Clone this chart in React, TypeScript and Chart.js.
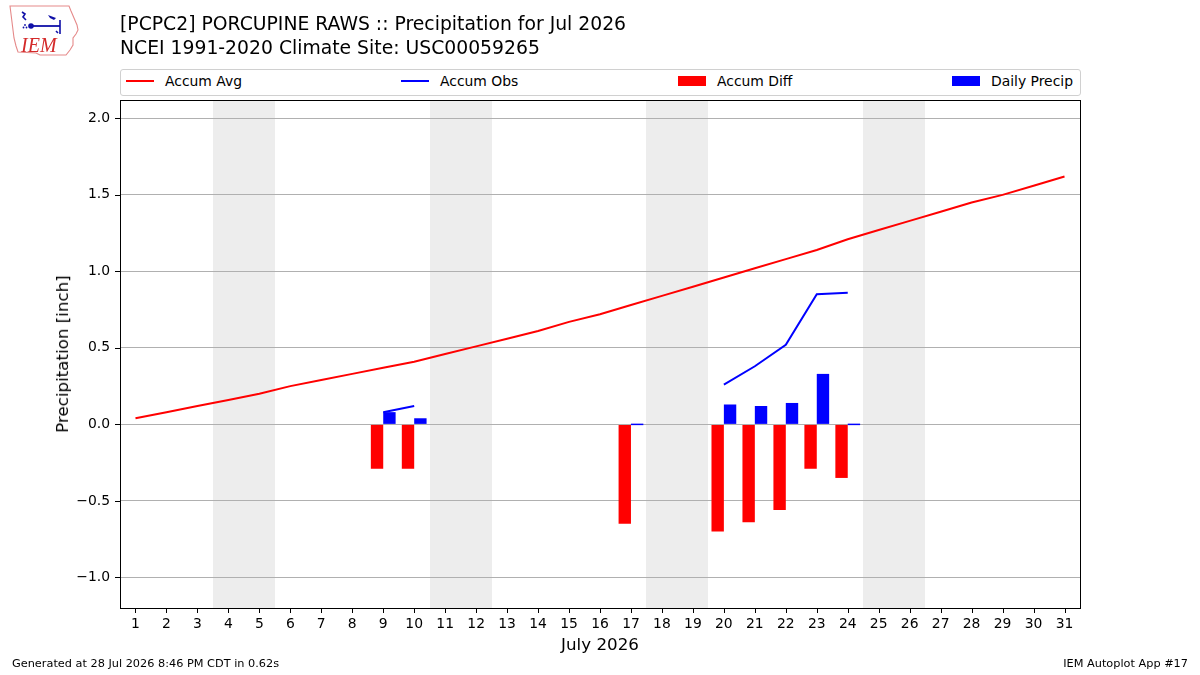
import React, { useEffect, useRef } from 'react';
import { Chart, registerables } from 'chart.js';

Chart.register(...registerables);

// ---- data ----
const days = ['1', '2', '3', '4', '5', '6', '7', '8', '9', '10', '11', '12', '13', '14', '15', '16',
  '17', '18', '19', '20', '21', '22', '23', '24', '25', '26', '27', '28', '29', '30', '31'];

const accumAvg = [0.04, 0.08, 0.12, 0.16, 0.20, 0.25, 0.29, 0.33, 0.37, 0.41, 0.46, 0.51, 0.56, 0.61,
  0.67, 0.72, 0.78, 0.84, 0.90, 0.96, 1.02, 1.08, 1.14, 1.21, 1.27, 1.33, 1.39, 1.45, 1.50, 1.56, 1.62];

const accumObs = [null, null, null, null, null, null, null, null, 0.08, 0.12, null, null, null, null,
  null, null, 0.13, null, null, 0.26, 0.38, 0.52, 0.85, 0.86, null, null, null, null, null, null, null];

const accumDiff = [null, null, null, null, null, null, null, null, -0.29, -0.29, null, null, null, null,
  null, null, -0.65, null, null, -0.70, -0.64, -0.56, -0.29, -0.35, null, null, null, null, null, null, null];

const dailyPrecip = [null, null, null, null, null, null, null, null, 0.08, 0.04, null, null, null, null,
  null, null, 0.0, null, null, 0.13, 0.12, 0.14, 0.33, 0.0, null, null, null, null, null, null, null];

const weekendDays = [4, 5, 11, 12, 18, 19, 25, 26];
const yTicks = [-1.0, -0.5, 0.0, 0.5, 1.0, 1.5, 2.0];
const yMin = -1.2;
const yMax = 2.12;

const FONT = "'DejaVu Sans', sans-serif";

const decorPlugin = {
  id: 'decor',
  beforeDraw(chart: any) {
    const { ctx, chartArea } = chart;
    const xs = chart.scales.x;
    ctx.save();
    ctx.fillStyle = '#ededed';
    weekendDays.forEach((d) => {
      const i = days.indexOf(String(d));
      const l = Math.round(xs.getPixelForValue(i - 0.5));
      const r = Math.round(xs.getPixelForValue(i + 0.5));
      ctx.fillRect(l, chartArea.top, r - l, chartArea.bottom - chartArea.top);
    });
    ctx.restore();
  },
  afterDraw(chart: any) {
    const { ctx, chartArea } = chart;
    const xs = chart.scales.x;
    const ys = chart.scales.y;
    ctx.save();
    ctx.strokeStyle = '#000';
    ctx.lineWidth = 1;
    ctx.strokeRect(Math.round(chartArea.left) + 0.5, Math.round(chartArea.top) + 0.5,
      Math.round(chartArea.right - chartArea.left), Math.round(chartArea.bottom - chartArea.top));
    ctx.beginPath();
    days.forEach((_, i) => {
      const x = Math.round(xs.getPixelForValue(i)) + 0.5;
      ctx.moveTo(x, chartArea.bottom);
      ctx.lineTo(x, chartArea.bottom + 5);
    });
    yTicks.forEach((v) => {
      const y = Math.round(ys.getPixelForValue(v)) + 0.5;
      ctx.moveTo(chartArea.left, y);
      ctx.lineTo(chartArea.left - 5, y);
    });
    ctx.stroke();
    ctx.restore();
  },
};

function Logo() {
  return (
    <svg width="100" height="65" style={{ position: 'absolute', left: 0, top: 0 }} viewBox="0 0 100 65">
      <path d="M10 6 L69 6 L71 11 L74 18 L77 25 L78 30 L76 34 L73 38 L73 45 L70 50 L66 55 L40 55 L36 53 L18 52 L16 46 L14 38 L13 30 L12 22 L11 14 Z"
        fill="none" stroke="#e58a8a" strokeWidth="1.1" />
      <path d="M22 12 L25 14 L23 17 L26 20" stroke="#1010a8" strokeWidth="1.6" fill="none" />
      <path d="M32 26 L60 26" stroke="#1010a8" strokeWidth="1.8" fill="none" />
      <path d="M60 20 L60 34 M56 31 L58 33" stroke="#1010a8" strokeWidth="1.6" fill="none" />
      <path d="M48 15 L56 18 L54 20 L50 18 Z" fill="#1010a8" />
      <circle cx="31" cy="26" r="2.8" fill="#1010a8" />
      <circle cx="25" cy="25" r="0.9" fill="#1010a8" />
      <circle cx="23.5" cy="27.5" r="0.9" fill="#1010a8" />
      <circle cx="26.5" cy="27.5" r="0.9" fill="#1010a8" />
      <text x="21" y="52" fill="#d42a2a" fontFamily="'Liberation Serif', serif" fontStyle="italic" fontSize="20">IEM</text>
    </svg>
  );
}

function LegendLine({ x, color, label }: { x: number; color: string; label: string }) {
  return (
    <>
      <div style={{ position: 'absolute', left: x, top: 80, width: 28, height: 2, background: color }} />
      <div style={{ position: 'absolute', left: x + 39, top: 72, height: 18, lineHeight: '18px', fontSize: 13.9, fontFamily: FONT, color: '#000', whiteSpace: 'nowrap' }}>{label}</div>
    </>
  );
}

function LegendPatch({ x, color, label }: { x: number; color: string; label: string }) {
  return (
    <>
      <div style={{ position: 'absolute', left: x, top: 76, width: 28, height: 10, background: color }} />
      <div style={{ position: 'absolute', left: x + 39, top: 72, height: 18, lineHeight: '18px', fontSize: 13.9, fontFamily: FONT, color: '#000', whiteSpace: 'nowrap' }}>{label}</div>
    </>
  );
}

export default function App() {
  const ref = useRef<HTMLCanvasElement | null>(null);

  useEffect(() => {
    if (!ref.current) return;
    const chart = new Chart(ref.current, {
      type: 'bar',
      data: {
        labels: days,
        datasets: [
          {
            type: 'line',
            label: 'Accum Avg',
            data: accumAvg,
            borderColor: '#ff0000',
            backgroundColor: '#ff0000',
            borderWidth: 2,
            pointRadius: 0,
            tension: 0,
            order: 0,
          } as any,
          {
            type: 'line',
            label: 'Accum Obs',
            data: accumObs,
            borderColor: '#0000ff',
            backgroundColor: '#0000ff',
            borderWidth: 2,
            pointRadius: 0,
            tension: 0,
            spanGaps: false,
            order: 0,
          } as any,
          {
            type: 'bar',
            label: 'Accum Diff',
            data: accumDiff,
            backgroundColor: '#ff0000',
            borderWidth: 0,
            categoryPercentage: 0.8,
            barPercentage: 1.0,
            order: 1,
          },
          {
            type: 'bar',
            label: 'Daily Precip',
            data: dailyPrecip,
            backgroundColor: '#0000ff',
            borderWidth: 0,
            categoryPercentage: 0.8,
            barPercentage: 1.0,
            minBarLength: 1.5,
            order: 1,
          },
        ],
      },
      options: {
        responsive: false,
        animation: false,
        layout: { padding: { left: 20, right: 120, top: 100, bottom: 0 } },
        plugins: { legend: { display: false }, tooltip: { enabled: false }, title: { display: false } },
        scales: {
          x: {
            type: 'category',
            offset: true,
            grid: { display: false, drawTicks: false },
            border: { display: false },
            ticks: {
              color: '#000',
              font: { family: FONT, size: 13.9 },
              padding: 8,
              maxRotation: 0,
              autoSkip: false,
            },
            afterFit: (s: any) => { s.height = 67; },
          },
          y: {
            type: 'linear',
            min: yMin,
            max: yMax,
            grid: { color: '#b0b0b0', lineWidth: 1, drawTicks: false },
            border: { display: false },
            afterBuildTicks: (s: any) => { s.ticks = yTicks.map((v) => ({ value: v })); },
            ticks: {
              color: '#000',
              font: { family: FONT, size: 13.9 },
              padding: 10,
              callback: (v: any) => Number(v).toFixed(1).replace('-', '\u2212'),
            },
            afterFit: (s: any) => { s.width = 100; },
          },
        },
      },
      plugins: [decorPlugin],
    });
    return () => chart.destroy();
  }, []);

  return (
    <div style={{ position: 'fixed', left: 0, top: 0, width: 1200, height: 675, background: '#fff', overflow: 'hidden' }}>
      <canvas ref={ref} width={1200} height={675} style={{ position: 'absolute', left: 0, top: 0 }} />
      <Logo />
      <div style={{ position: 'absolute', left: 120, top: 12, fontFamily: FONT, fontSize: 18.8, lineHeight: '24px', color: '#000', whiteSpace: 'nowrap' }}>
        <div>[PCPC2] PORCUPINE RAWS :: Precipitation for Jul 2026</div>
        <div>NCEI 1991-2020 Climate Site: USC00059265</div>
      </div>
      <div style={{ position: 'absolute', left: 120, top: 69, width: 959, height: 25, border: '1px solid #d0d0d0', borderRadius: 3, background: '#fff' }} />
      <LegendLine x={126} color="#ff0000" label="Accum Avg" />
      <LegendLine x={401} color="#0000ff" label="Accum Obs" />
      <LegendPatch x={678} color="#ff0000" label="Accum Diff" />
      <LegendPatch x={952} color="#0000ff" label="Daily Precip" />
      <div style={{ position: 'absolute', left: 62, top: 354, transform: 'translate(-50%, -50%) rotate(-90deg)', fontFamily: FONT, fontSize: 16.7, color: '#000', whiteSpace: 'nowrap' }}>Precipitation [inch]</div>
      <div style={{ position: 'absolute', left: 600, top: 644, transform: 'translate(-50%, -50%)', fontFamily: FONT, fontSize: 16.7, color: '#000', whiteSpace: 'nowrap' }}>July 2026</div>
      <div style={{ position: 'absolute', left: 12, top: 657, fontFamily: FONT, fontSize: 11.3, lineHeight: '14px', color: '#000', whiteSpace: 'nowrap' }}>Generated at 28 Jul 2026 8:46 PM CDT in 0.62s</div>
      <div style={{ position: 'absolute', right: 12, top: 657, fontFamily: FONT, fontSize: 11.3, lineHeight: '14px', color: '#000', whiteSpace: 'nowrap' }}>IEM Autoplot App #17</div>
    </div>
  );
}
